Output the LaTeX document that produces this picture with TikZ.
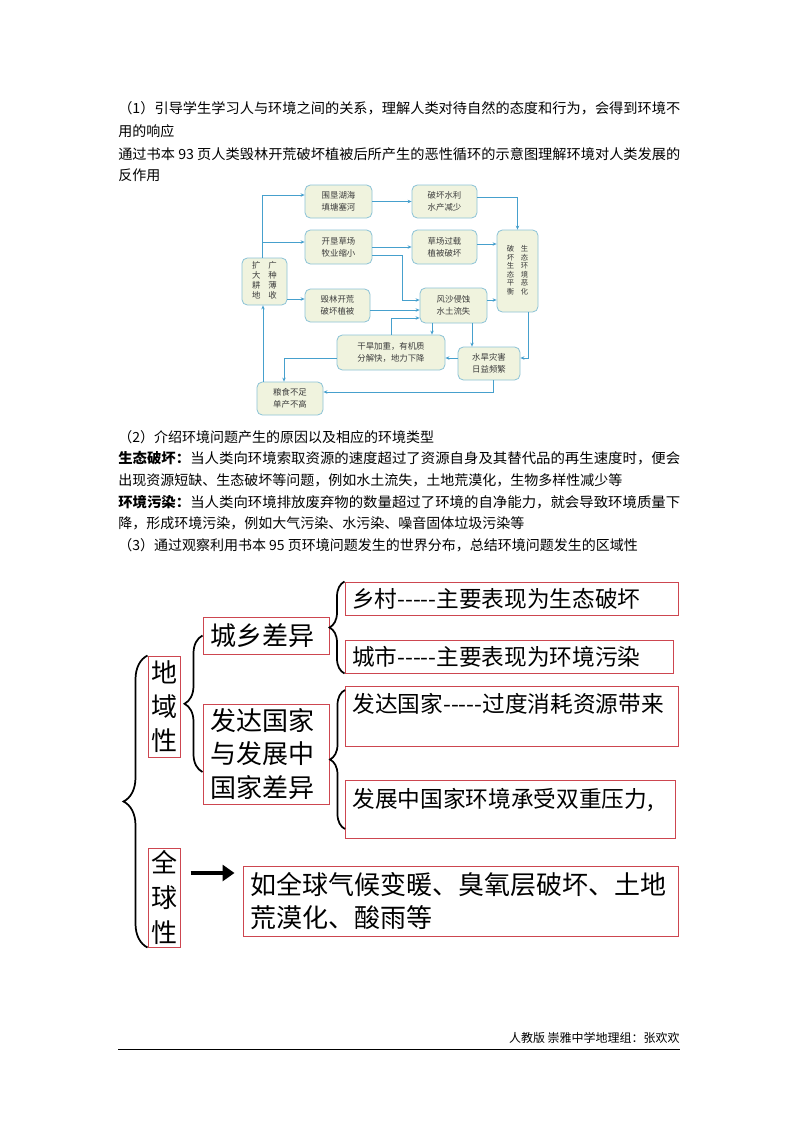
\documentclass[tikz,border=0pt]{standalone}
\usepackage{graphicx}
\usepackage{fontspec}
\setmainfont{Noto Sans CJK SC}
\usetikzlibrary{arrows.meta, decorations.pathreplacing}

\definecolor{flowblue}{RGB}{70,160,205}
\definecolor{flowedge}{RGB}{140,195,215}
\definecolor{flowfill}{RGB}{240,243,222}
\definecolor{flowtext}{RGB}{60,60,60}
\definecolor{boxred}{RGB}{205,70,80}

\newcommand{\fullline}[1]{\resizebox{421.5pt}{\height}{#1}}
\newcommand{\dashes}{-{}-{}-{}-{}-}

\tikzset{
  body/.style={anchor=west, inner sep=0pt, font=\fontsize{10.5}{14}\selectfont},
  fbox/.style={draw=flowedge, fill=flowfill, rounded corners=4pt, line width=0.6pt,
    text=flowtext, align=center, inner sep=0pt, font=\fontsize{6.3}{9}\selectfont},
  fline/.style={draw=flowblue, line width=0.6pt, -{Stealth[length=3pt,width=2.6pt]}},
  mbox/.style={draw=boxred, line width=0.75pt, inner xsep=5.25pt, inner ysep=0pt,
    align=left, font=\fontsize{17}{25}\selectfont},
  kbox/.style={mbox, font=\fontsize{19.5}{25}\selectfont},
  brc/.style={decorate, line width=1.3pt},
}

\begin{document}
\begin{tikzpicture}[x=0.75pt, y=-0.75pt]
\fill[white] (0,0) rectangle (800,1132);
\useasboundingbox (0,0) rectangle (800,1132);

% part (1)
\node[body] (p1a) at (118,108) {\fullline{（1）引导学生学习人与环境之间的关系，理解人类对待自然的态度和行为，会得到环境不}};
\node[body] (p1b) at (118,131) {用的响应};
\node[body] (p1c) at (118,154) {\fullline{通过书本 93 页人类毁林开荒破坏植被后所产生的恶性循环的示意图理解环境对人类发展的}};
\node[body] (p1d) at (118,175) {反作用};

% vicious circle
\node[fbox, minimum width=50.25pt, minimum height=24.75pt] (weiken) at (338.5,201.5) {围垦湖海\\填塘塞河};
\node[fbox, minimum width=48.75pt, minimum height=24.75pt] (pohuai) at (444.5,201.5) {破坏水利\\水产减少};
\node[fbox, minimum width=50.25pt, minimum height=25.5pt] (kaiken) at (338.5,247) {开垦草场\\牧业缩小};
\node[fbox, minimum width=48.75pt, minimum height=25.5pt] (caochang) at (444.5,247) {草场过载\\植被破坏};
\node[fbox, minimum width=33.75pt, minimum height=35.25pt, font=\fontsize{6.3}{7}\selectfont] (kuoda) at (264.5,281.5)
  {\begin{tabular}{@{}c@{\hspace{6pt}}c@{}}扩&广\\大&种\\耕&薄\\地&收\end{tabular}};
\node[fbox, minimum width=48.75pt, minimum height=24.75pt] (huilin) at (337.5,305.5) {毁林开荒\\破坏植被};
\node[fbox, minimum width=50.25pt, minimum height=26.25pt] (fengsha) at (453.5,305.5) {风沙侵蚀\\水土流失};
\node[fbox, minimum width=30.75pt, minimum height=61.5pt, font=\fontsize{5.5}{6}\selectfont] (shengtai) at (517.5,271)
  {\begin{tabular}{@{}c@{\hspace{5pt}}c@{}}破&生\\坏&态\\生&环\\态&境\\平&恶\\衡&化\end{tabular}};
\node[fbox, minimum width=81pt, minimum height=26.25pt] (ganhan) at (391,352.5) {干旱加重，有机质\\分解快，地力下降};
\node[fbox, minimum width=46.5pt, minimum height=24.75pt] (shuihan) at (489,363.5) {水旱灾害\\日益频繁};
\node[fbox, minimum width=49.5pt, minimum height=24.75pt] (liangshi) at (290,398.5) {粮食不足\\单产不高};

\coordinate (trunk) at (262,195);
\coordinate (fork) at (262,242);
\coordinate (kbend) at (402,300);
\draw[fline] (kuoda.north -| trunk) -- (trunk) -- (trunk -| weiken.west);
\draw[fline] (fork) -- (fork -| kaiken.west);
\draw[fline] (kuoda.east |- 0,299) -- (huilin.west |- 0,299);
\draw[fline] (weiken) -- (pohuai);
\draw[fline] (pohuai.east |- 0,197) -| (shengtai.north);
\draw[fline] (kaiken) -- (caochang);
\draw[fline] (caochang.east |- 0,244) -- (shengtai.west |- 0,244);
\draw[fline] (kaiken.east |- 0,255) -| (kbend) -- (kbend -| fengsha.west);
\draw[fline] (huilin.east |- 0,310) -- (fengsha.west |- 0,310);
\draw[fline] (ganhan.north) |- (fengsha.west |- 0,318);
\draw[fline] (fengsha.south -| 432,0) -- (ganhan.north -| 432,0);
\draw[fline] (fengsha.south -| 472,0) -- (shuihan.north -| 472,0);
\draw[fline] (fengsha.east |- 0,300) -- (shengtai.west |- 0,300);
\draw[fline] (shengtai.south -| 528,0) |- (shuihan.east |- 0,358);
\draw[fline] (shuihan.west |- 0,358) -- (ganhan.east |- 0,358);
\draw[fline] (ganhan.west |- 0,358) -| (liangshi.north -| 284,0);
\draw[fline] (shuihan.south -| 493,0) |- (liangshi.east |- 0,392);
\draw[fline] (liangshi.north -| 263,0) -- (kuoda.south -| 263,0);

% part (2) and (3)
\node[body] (p2a) at (118,437) {（2）介绍环境问题产生的原因以及相应的环境类型};
\node[body] (p2b) at (118,458) {\fullline{\textbf{生态破坏：}当人类向环境索取资源的速度超过了资源自身及其替代品的再生速度时，便会}};
\node[body] (p2c) at (118,480) {出现资源短缺、生态破坏等问题，例如水土流失，土地荒漠化，生物多样性减少等};
\node[body] (p2d) at (118,502) {\fullline{\textbf{环境污染：}当人类向环境排放废弃物的数量超过了环境的自净能力，就会导致环境质量下}};
\node[body] (p2e) at (118,523) {降，形成环境污染，例如大气污染、水污染、噪音固体垃圾污染等};
\node[body] (p3) at (118,545) {（3）通过观察利用书本 95 页环境问题发生的世界分布，总结环境问题发生的区域性};

% regional map
\node[kbox, align=center, inner xsep=2.25pt, text width=19.5pt, minimum height=75.75pt,
  font=\fontsize{19.5}{25.5}\selectfont] (diyu) at (164,706.5) {地\\域\\性};
\node[kbox, align=center, inner xsep=2.25pt, text width=19.5pt, minimum height=74.25pt,
  font=\fontsize{19.5}{26.25}\selectfont] (quanqiu) at (164,897.5) {全\\球\\性};
\node[kbox, text width=84pt, minimum height=27.75pt] (chengxiang) at (266,635.5) {城乡差异};
\node[kbox, text width=84pt, minimum height=75pt] (guojia) at (266,754) {发达国家\\与发展中\\国家差异};
\node[mbox, text width=239.25pt, minimum height=24.75pt] (xiangcun) at (511.5,598.5) {乡村\dashes 主要表现为生态破坏};
\node[mbox, text width=235.5pt, minimum height=24.75pt] (chengshi) at (509,656.5) {城市\dashes 主要表现为环境污染};
\node[mbox, anchor=north west, text width=239.25pt, text height=19.5pt, text depth=25.5pt] (fada) at (345,686) {发达国家\dashes 过度消耗资源带来};
\node[mbox, anchor=north west, text width=237pt, text height=20pt, text depth=23.5pt] (fazhan) at (345,780) {发展中国家环境承受双重压力,};
\node[kbox, text width=315.75pt, minimum height=52.5pt, font=\fontsize{19.5}{24.75}\selectfont] (global) at (460.5,901)
  {如全球气候变暖、臭氧层破坏、土地\\荒漠化、酸雨等};

\draw[brc, decoration={brace, amplitude=18pt}] (quanqiu.south west) -- (diyu.north west);
\draw[brc, decoration={brace, amplitude=13.5pt}] ([yshift=-13.5pt]guojia.west) -- (chengxiang.west);
\draw[brc, decoration={brace, amplitude=11.25pt}] (chengshi.south west) -- (xiangcun.north west);
\draw[brc, decoration={brace, amplitude=11.25pt}] ([yshift=7.5pt]fazhan.south west) -- ([yshift=-3pt]fada.north west);
\draw[line width=3pt, -{Triangle[length=9pt,width=12pt]}, shorten <=7.5pt, shorten >=6pt]
  (quanqiu.east |- 0,873) -- (global.west |- 0,873);

% footer
\node[anchor=east, inner sep=0pt, font=\fontsize{9}{11}\selectfont] (foot) at (680,1038) {人教版 崇雅中学地理组：张欢欢};
\draw[line width=0.75pt] (118,1049) -- (680,1049);
\end{tikzpicture}
\end{document}
